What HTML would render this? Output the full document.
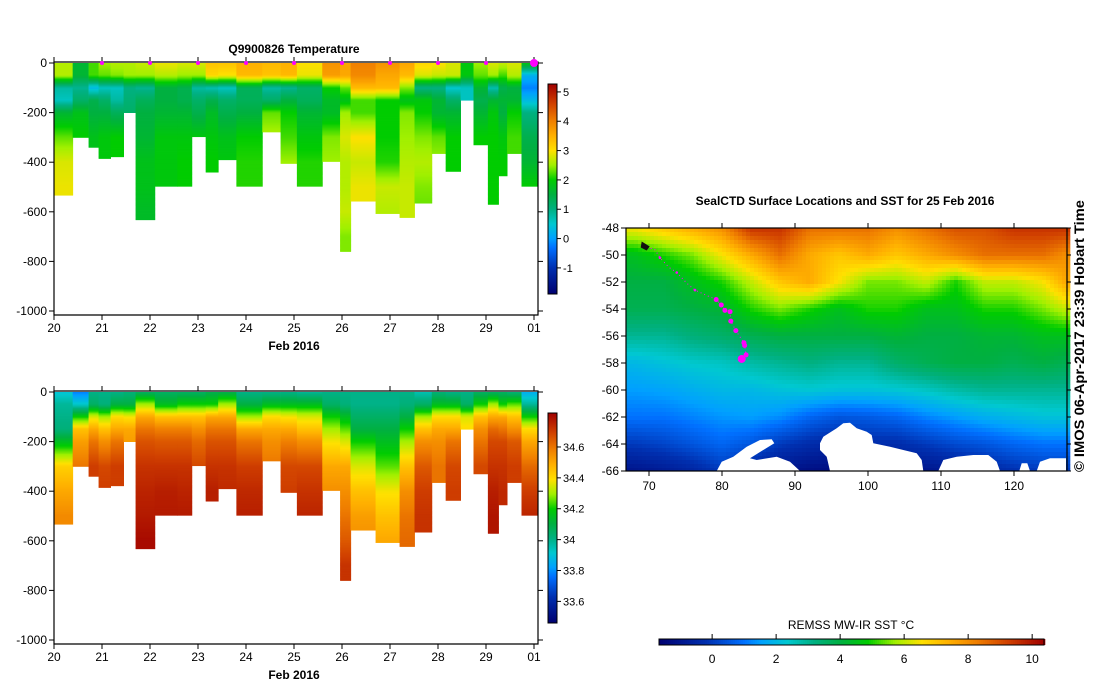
<!DOCTYPE html>
<html><head><meta charset="utf-8"><style>
html,body{margin:0;padding:0;background:#fff;}
svg{display:block;font-family:"Liberation Sans",sans-serif;}
</style></head><body>
<svg id="svg" width="1099" height="700" viewBox="0 0 1099 700" xmlns="http://www.w3.org/2000/svg">
<rect width="1099" height="700" fill="#fff"/>
<g id="p1"></g>
<g id="p2"></g>
<g id="map"></g>
<text x="294" y="53" font-size="12" font-weight="bold" text-anchor="middle">Q9900826  Temperature</text>
<text x="294" y="350" font-size="12" font-weight="bold" text-anchor="middle">Feb 2016</text>
<text x="294" y="679" font-size="12" font-weight="bold" text-anchor="middle">Feb 2016</text>
<text x="845" y="205" font-size="12" font-weight="bold" text-anchor="middle">SealCTD Surface Locations and SST for 25 Feb 2016</text>
<text x="851" y="629" font-size="12" text-anchor="middle">REMSS MW-IR SST °C</text>
<text transform="translate(1084,336) rotate(-90)" font-size="14" font-weight="bold" text-anchor="middle" textLength="272" lengthAdjust="spacingAndGlyphs">© IMOS 06-Apr-2017 23:39 Hobart Time</text>
</svg>
<script>
// ---------- data ----------
const colStart=[0,.39,.72,.93,1.18,1.45,1.70,2.10,2.57,2.87,3.16,3.42,3.80,4.34,4.72,5.06,5.59,5.96,6.18,6.70,7.20,7.51,7.87,8.16,8.47,8.74,9.04,9.26,9.44,9.74];
const colEndLast=10.07;
const maxDepth=[533,300,340,385,378,200,632,497,497,297,440,390,497,278,405,497,397,760,557,607,623,565,365,437,150,330,570,455,365,497];
const depthLevels=[0,50,100,150,200,300,400,500,600,700,800];
const tempProfiles=[
[2.6,2.6,0.8,0.6,1.6,2.3,2.8,2.9],[1.6,1.6,0.9,1.2,1.8,2.0],[2.2,2.2,0.3,1.4,1.5,1.8],[2.5,2.3,0.6,1.2,1.5,1.9],
[2.6,2.4,0.6,0.8,1.3,2.0],[2.6,2.5,1.0,1.1,1.2],[2.7,2.5,0.9,1.3,1.5,1.6,1.8,1.8,1.7],[2.9,2.6,1.5,1.5,1.6,1.9,1.9,1.9],
[2.8,2.5,1.4,1.4,1.6,1.9,2.0,2.0],[2.8,2.5,0.8,1.2,1.4,1.9],[3.3,3.1,0.7,1.4,1.7,1.9,2.0],[3.3,3.0,0.6,1.2,1.4,1.8,1.9],
[3.5,3.4,1.3,1.3,1.5,2.0,2.1,2.1],[3.4,3.3,0.8,1.2,2.3,2.6],[3.5,3.4,0.9,1.5,2.0,2.2,2.5],[3.0,2.9,1.2,1.3,1.6,1.9,2.1,2.1],
[3.8,3.7,2.0,1.7,1.7,2.4,2.5],[3.6,3.6,2.3,1.8,2.5,2.8,2.6,2.6,2.7,2.4],[4.0,3.9,3.4,2.2,2.2,3.0,2.7,2.9,2.9],[3.8,3.6,3.4,2.0,2.0,2.0,2.1,2.7,2.6],
[3.6,3.4,2.4,1.8,2.4,2.5,2.6,2.7,2.7],[3.1,2.8,1.0,1.9,2.0,2.4,2.6,2.4,2.3],[3.0,2.7,1.0,1.6,1.6,2.3,2.5],[2.8,2.7,0.5,1.2,1.6,2.0,2.0],
[1.9,1.9,0.6,0.6],[2.5,2.3,1.6,1.4,1.6,2.0],[2.8,2.5,0.7,1.6,1.9,2.0,2.0],[2.7,2.2,1.4,1.6,1.5,1.9,2.0],
[2.8,2.6,1.5,1.6,2.0,2.2],[1.9,0.2,-0.2,0.3,1.0,1.4,1.6,2.0]];
const salProfiles=[
[33.9,33.98,34.0,34.02,34.15,34.42,34.5,34.56],[33.78,33.92,34.2,34.45,34.52,34.6],[34.0,34.05,34.35,34.5,34.6,34.7],[34.0,34.02,34.3,34.45,34.55,34.68,34.7],
[34.0,34.1,34.4,34.5,34.6,34.7],[34.02,34.1,34.38,34.5,34.52],[34.05,34.3,34.5,34.6,34.66,34.72,34.75,34.77,34.8],[34.05,34.15,34.45,34.58,34.65,34.72,34.76,34.77],
[34.05,34.2,34.45,34.58,34.65,34.72,34.75,34.77],[34.05,34.2,34.45,34.55,34.62,34.68],[34.08,34.2,34.5,34.6,34.66,34.72,34.76],[34.08,34.3,34.5,34.6,34.66,34.72,34.74],
[34.0,34.1,34.3,34.5,34.6,34.7,34.74,34.76],[34.0,34.15,34.4,34.5,34.55,34.6],[34.0,34.15,34.38,34.5,34.58,34.68,34.7],[33.98,34.15,34.35,34.45,34.55,34.68,34.72,34.75],
[34.0,34.05,34.2,34.3,34.38,34.5,34.55],[34.0,34.02,34.15,34.25,34.35,34.5,34.55,34.6,34.65,34.72],[34.0,34.0,34.05,34.1,34.2,34.35,34.45,34.52,34.55],[34.0,34.0,34.05,34.1,34.15,34.25,34.38,34.45,34.5,34.5],
[34.0,34.02,34.1,34.2,34.3,34.45,34.55,34.6,34.62],[33.95,34.05,34.3,34.45,34.55,34.65,34.7,34.72],[34.02,34.15,34.4,34.5,34.55,34.6],[34.0,34.15,34.4,34.5,34.6,34.68,34.7],
[34.0,34.05,34.35,34.4],[34.05,34.2,34.45,34.55,34.6,34.68],[34.05,34.3,34.5,34.62,34.68,34.72,34.76,34.78],[34.05,34.2,34.5,34.6,34.68,34.72,34.74],
[34.02,34.25,34.45,34.55,34.65,34.7],[33.85,33.98,34.2,34.4,34.5,34.62,34.7,34.75]];
const dayTickLabels=['20','21','22','23','24','25','26','27','28','29','01'];
const depthTicks=[0,-200,-400,-600,-800,-1000];
const tempBarTicks=[-1,0,1,2,3,4,5];
const salBarTicks=[33.6,33.8,34,34.2,34.4,34.6];
const sstLons=[68,72,76,80,84,88,92,96,100,104,108,112,116,120,124,127];
const sstLats=[-48,-50,-52,-54,-56,-58,-60,-62,-64,-66];
const sstGrid=[
[6.5,7,7.5,8,9.5,9.5,8.5,8.5,8.5,8,8.5,9,9,9.5,9.5,9.5],
[4.5,5,5.5,6.5,7.5,8.5,7.5,7,7.5,7,7.5,8,8.5,8.5,8.5,8],
[4,4,4.5,5,6,7,7.5,6.5,5.5,5.5,6,5,6,6,6.5,7.5],
[3.8,3.8,4,4.2,5,5.5,5,4.5,5,5,4.5,4.5,5,5,5.5,6],
[3,3,3.3,3.5,3.8,4,4,4,4,4.2,4,4,4.2,4.2,4.5,4.5],
[2,2.2,2.4,2.5,2.8,3,3.2,3,3,3.5,3.8,4,4,3.8,4,3.8],
[1.5,1.6,1.8,2,2,2.2,2.3,2.2,2.2,2.3,2.5,2.8,3,3,3,3],
[1,1,1.2,1.4,1.5,1.3,0.8,0.5,0.6,0.8,1.2,1.5,1.8,2,2.2,2.2],
[0,0.2,0.5,0.8,0.5,0,-0.3,-0.5,-0.3,-0.3,0,0.3,0.5,0.8,1,1],
[-1,-0.8,-0.5,0,-0.5,-1,-1.2,-1.3,-1,-1,-1,-0.8,-0.5,-0.2,0,0]];
const trackLon=[69.2,70.8,71.5,72.7,73.8,75.2,76.3,77.9,79.2,79.9,80.4,81.1,81.2,81.9,83.0,83.1,83.3];
const trackLat=[-49.3,-49.6,-50.2,-50.9,-51.3,-52.1,-52.6,-53.0,-53.3,-53.7,-54.1,-54.2,-54.9,-55.6,-56.5,-56.7,-57.4];
const lastLon=82.7, lastLat=-57.7;
const lonTicks=[70,80,90,100,110,120];
const latTicks=[-48,-50,-52,-54,-56,-58,-60,-62,-64,-66];
const sstBarTicks=[0,2,4,6,8,10];

// ---------- helpers ----------
const NS='http://www.w3.org/2000/svg';
function mk(parent,tag,attrs){const e=document.createElementNS(NS,tag);for(const k in attrs)e.setAttribute(k,attrs[k]);parent.appendChild(e);return e;}
const stops=[[0,[0,0,112]],[0.124,[0,48,176]],[0.22,[0,112,255]],[0.264,[0,160,255]],[0.334,[0,200,208]],[0.404,[0,176,128]],[0.473,[0,176,64]],[0.543,[0,204,0]],[0.613,[160,240,0]],[0.683,[255,224,0]],[0.753,[255,176,0]],[0.823,[240,128,0]],[0.907,[208,64,0]],[1,[160,0,0]]];
function cmap(t){t=Math.max(0,Math.min(1,t));for(let i=1;i<stops.length;i++){if(t<=stops[i][0]){const a=stops[i-1],b=stops[i],f=(t-a[0])/(b[0]-a[0]);const c=a[1].map((v,j)=>Math.round(v+(b[1][j]-v)*f));return `rgb(${c[0]},${c[1]},${c[2]})`;}}return 'rgb(160,0,0)';}
function interp(vals,d){for(let i=1;i<depthLevels.length;i++){if(d<=depthLevels[i]){const a=vals[Math.min(i-1,vals.length-1)],b=vals[Math.min(i,vals.length-1)];const f=(d-depthLevels[i-1])/(depthLevels[i]-depthLevels[i-1]);return a+(b-a)*f;}}return vals[vals.length-1];}
const X0=54, PXD=48;
const day2x=d=>X0+d*PXD;

function section(g,y0,profiles,vmin,vmax,barTicks,barFmt,nameCell){
  const d2y=d=>y0+d*0.248;
  for(let c=0;c<colStart.length;c++){
    const xa=day2x(colStart[c]), xb=day2x(c+1<colStart.length?colStart[c+1]:colEndLast);
    for(let d=0;d<maxDepth[c];d+=5){
      const v=interp(profiles[c],d+2.5);
      const r=mk(g,'rect',{x:xa.toFixed(1),y:d2y(d).toFixed(2),width:(xb-xa+0.4).toFixed(1),height:(Math.min(5,maxDepth[c]-d)*0.248+0.4).toFixed(2),fill:cmap((v-vmin)/(vmax-vmin))});
      
      
    }
  }
  const yb=y0+252;
  mk(g,'path',{d:`M${X0} ${y0-1}H538V${yb}H${X0}Z`,fill:'none',stroke:'#000','stroke-width':1.2});
  depthTicks.forEach(t=>{const y=d2y(-t);
    mk(g,'line',{x1:X0-5,x2:X0,y1:y,y2:y,stroke:'#000'});mk(g,'line',{x1:538,x2:543,y1:y,y2:y,stroke:'#000'});
    const tx=mk(g,'text',{x:X0-7,y:y+4,'font-size':12,'text-anchor':'end'});tx.textContent=t;
    });
  dayTickLabels.forEach((l,i)=>{const x=day2x(i);
    mk(g,'line',{x1:x,x2:x,y1:yb,y2:yb+5,stroke:'#000'});mk(g,'line',{x1:x,x2:x,y1:y0-1,y2:y0-6,stroke:'#000'});
    const tx=mk(g,'text',{x:x,y:yb+17,'font-size':12,'text-anchor':'middle'});tx.textContent=l;
    });
  const bt=y0+21, bh=210;
  for(let i=0;i<bh;i++){const v=vmax-(i+0.5)/bh*(vmax-vmin);mk(g,'rect',{x:548,y:bt+i,width:9,height:1.2,fill:cmap((v-vmin)/(vmax-vmin))});}
  mk(g,'rect',{x:548,y:bt,width:9,height:bh,fill:'none',stroke:'#000'});
  barTicks.forEach(t=>{const y=bt+(vmax-t)/(vmax-vmin)*bh;
    mk(g,'line',{x1:557,x2:561,y1:y,y2:y,stroke:'#000'});
    const tx=mk(g,'text',{x:563,y:y+4,'font-size':11});tx.textContent=barFmt(t);
    });
  return d2y;
}
const p1=document.getElementById('p1'),p2=document.getElementById('p2');
section(p1,63,tempProfiles,-1.89,5.27,tempBarTicks,t=>String(t),'temperature-cell');
section(p2,392,salProfiles,33.46,34.82,salBarTicks,t=>String(t),'salinity-cell');
for(let i=1;i<dayTickLabels.length;i++){
  const big=i===dayTickLabels.length-1;
  const m=mk(p1,'circle',{cx:day2x(i),cy:63,r:big?4:2,fill:'#ff00ff'});
  
  
}

// ---------- map ----------
const mg=document.getElementById('map');
const ML=626,MR=1067,MT=228,MB=471;
const lon2x=l=>649+(l-70)*7.3, lat2y=a=>228+(-48-a)*13.5;
const sMin=-1.66,sMax=10.37;
function sstAt(lon,lat){
  let i=0;while(i<sstLons.length-2&&lon>sstLons[i+1])i++;
  let j=0;while(j<sstLats.length-2&&lat<sstLats[j+1])j++;
  const fx=Math.max(0,Math.min(1,(lon-sstLons[i])/(sstLons[i+1]-sstLons[i])));
  const fy=Math.max(0,Math.min(1,(lat-sstLats[j])/(sstLats[j+1]-sstLats[j])));
  const a=sstGrid[j][i],b=sstGrid[j][i+1],c=sstGrid[j+1][i],d=sstGrid[j+1][i+1];
  return a*(1-fx)*(1-fy)+b*fx*(1-fy)+c*(1-fx)*fy+d*fx*fy;
}
const cs=4;
for(let y=MT;y<MB;y+=cs){for(let x=ML;x<MR;x+=cs){
  const lon=70+(x+cs/2-649)/7.3, lat=-48-(y+cs/2-228)/13.5;
  const r=mk(mg,'rect',{x:x,y:y,width:cs+0.3,height:Math.min(cs,MB-y)+0.3,fill:cmap((sstAt(lon,lat)-sMin)/(sMax-sMin))});
  
  
}}
const land=[
[[380,843],[395,815],[430,800],[470,770],[510,750],[545,748],[553,760],[520,780],[480,805],[500,810],[560,800],[600,815],[630,843]],
[[690,760],[700,740],[740,715],[760,700],[780,698],[800,715],[830,725],[845,735],[850,760],[900,770],[940,780],[980,790],[995,810],[1000,843],[720,843],[710,800],[690,780]],
[[1045,843],[1060,810],[1100,800],[1150,795],[1195,795],[1220,815],[1230,843]],
[[1288,843],[1295,820],[1312,820],[1320,843]],
[[1340,843],[1350,815],[1380,805],[1428,805],[1428,843]]];
land.forEach(p=>{const pl=mk(mg,'polygon',{points:p.map(q=>`${(590+q[0]/3).toFixed(1)},${(190+q[1]/3).toFixed(1)}`).join(' '),fill:'#fff'});
  });
const tl=mk(mg,'polyline',{points:trackLon.map((l,i)=>`${lon2x(l)},${lat2y(trackLat[i])}`).join(' '),fill:'none',stroke:'#ff00ff','stroke-width':1,'stroke-dasharray':'1 3'});

trackLon.forEach((l,i)=>{if(i<8&&i%2)return;const c=mk(mg,'circle',{cx:lon2x(l),cy:lat2y(trackLat[i]),r:i>=8?2.5:1.3,fill:'#ff00ff'});
  });
const lp=mk(mg,'circle',{cx:lon2x(lastLon),cy:lat2y(lastLat),r:4,fill:'#ff00ff'});

const st=mk(mg,'path',{d:`M${lon2x(69.0)} ${lat2y(-49.0)}l8 5l-3 4l-6 -3z`,fill:'#111'});

mk(mg,'rect',{x:ML,y:MT,width:MR-ML,height:MB-MT,fill:'none',stroke:'#000','stroke-width':1.2});
lonTicks.forEach(l=>{const x=lon2x(l);mk(mg,'line',{x1:x,x2:x,y1:MB,y2:MB+5,stroke:'#000'});mk(mg,'line',{x1:x,x2:x,y1:MT,y2:MT-5,stroke:'#000'});
  const t=mk(mg,'text',{x:x,y:MB+19,'font-size':12,'text-anchor':'middle'});t.textContent=l;
  });
latTicks.forEach(a=>{const y=lat2y(a);mk(mg,'line',{x1:ML-5,x2:ML,y1:y,y2:y,stroke:'#000'});mk(mg,'line',{x1:MR,x2:MR+4,y1:y,y2:y,stroke:'#000'});
  const t=mk(mg,'text',{x:ML-7,y:y+4,'font-size':12,'text-anchor':'end'});t.textContent=a;
  });
const CB0=659,CB1=1044;
for(let x=CB0;x<CB1;x+=2){const v=sMin+(x+1-CB0)/(CB1-CB0)*(sMax-sMin);mk(mg,'rect',{x:x,y:639,width:2.3,height:6,fill:cmap((v-sMin)/(sMax-sMin))});}
mk(mg,'rect',{x:CB0,y:639,width:CB1-CB0,height:6,fill:'none',stroke:'#000'});
sstBarTicks.forEach(v=>{const x=CB0+(v-sMin)/(sMax-sMin)*(CB1-CB0);mk(mg,'line',{x1:x,x2:x,y1:634,y2:639,stroke:'#000'});
  const t=mk(mg,'text',{x:x,y:663,'font-size':12,'text-anchor':'middle'});t.textContent=v;
  });
</script>
</body></html>
